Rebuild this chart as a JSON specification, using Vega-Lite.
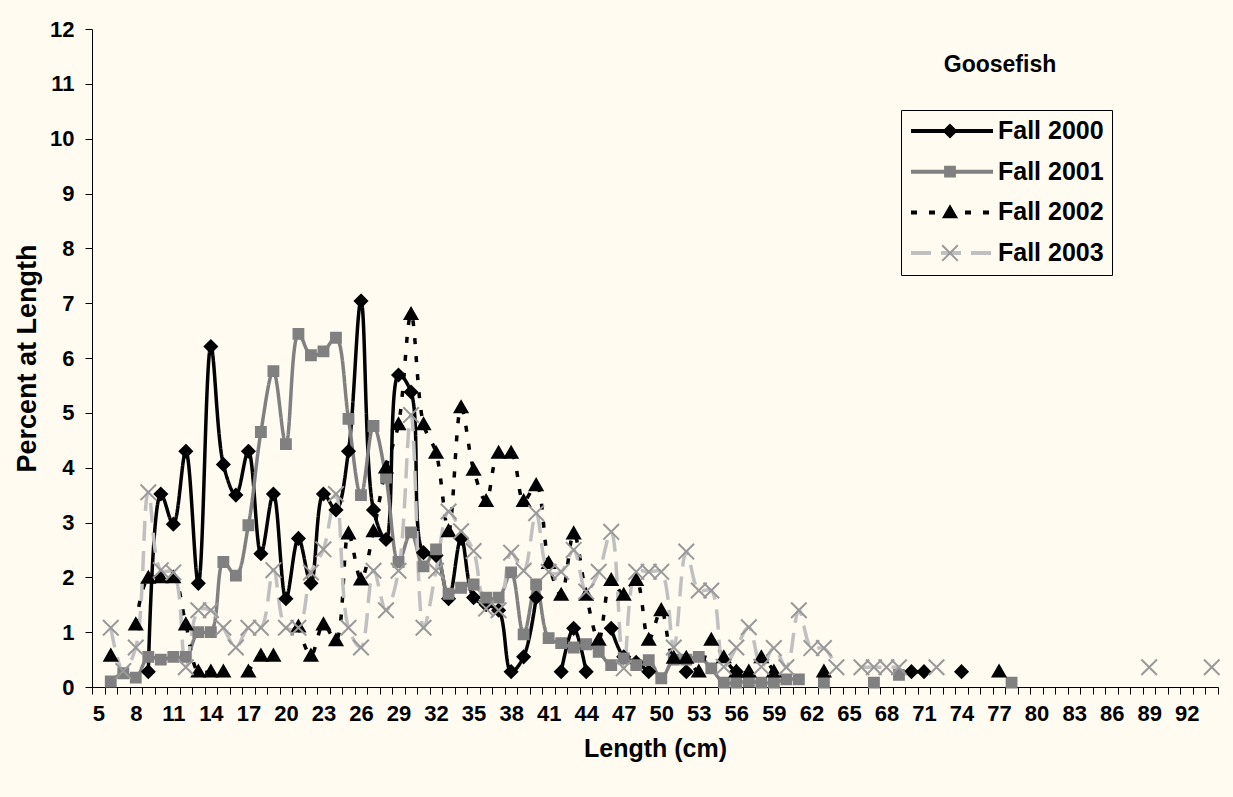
{
  "$schema": "https://vega.github.io/schema/vega-lite/v6.json",
  "width": 1126,
  "height": 658,
  "autosize": "none",
  "padding": {"left": 92, "top": 29, "right": 15, "bottom": 110},
  "background": "#FFFBF0",
  "config": {
    "view": {"stroke": null, "fill": "#FFFBF0"},
    "font": "Liberation Sans",
    "axis": {"grid": false, "domainColor": "#000000", "tickColor": "#000000", "labelColor": "#000000", "titleColor": "#000000"}
  },
  "title": {
    "text": "Goosefish",
    "anchor": "start",
    "frame": "group",
    "align": "center",
    "baseline": "bottom",
    "offset": 0,
    "dx": 908,
    "dy": 82,
    "fontSize": 23,
    "fontWeight": "bold",
    "color": "#000000"
  },
  "data": {
    "values": [
      {"length": 9, "series": "Fall 2000", "pct": 0.28},
      {"length": 10, "series": "Fall 2000", "pct": 3.52},
      {"length": 11, "series": "Fall 2000", "pct": 2.97},
      {"length": 12, "series": "Fall 2000", "pct": 4.3},
      {"length": 13, "series": "Fall 2000", "pct": 1.89},
      {"length": 14, "series": "Fall 2000", "pct": 6.21},
      {"length": 15, "series": "Fall 2000", "pct": 4.06},
      {"length": 16, "series": "Fall 2000", "pct": 3.5},
      {"length": 17, "series": "Fall 2000", "pct": 4.3},
      {"length": 18, "series": "Fall 2000", "pct": 2.43},
      {"length": 19, "series": "Fall 2000", "pct": 3.52},
      {"length": 20, "series": "Fall 2000", "pct": 1.61},
      {"length": 21, "series": "Fall 2000", "pct": 2.71},
      {"length": 22, "series": "Fall 2000", "pct": 1.89},
      {"length": 23, "series": "Fall 2000", "pct": 3.52},
      {"length": 24, "series": "Fall 2000", "pct": 3.23},
      {"length": 25, "series": "Fall 2000", "pct": 4.3},
      {"length": 26, "series": "Fall 2000", "pct": 7.04},
      {"length": 27, "series": "Fall 2000", "pct": 3.23},
      {"length": 28, "series": "Fall 2000", "pct": 2.69},
      {"length": 29, "series": "Fall 2000", "pct": 5.69},
      {"length": 30, "series": "Fall 2000", "pct": 5.38},
      {"length": 31, "series": "Fall 2000", "pct": 2.45},
      {"length": 32, "series": "Fall 2000", "pct": 2.4},
      {"length": 33, "series": "Fall 2000", "pct": 1.61},
      {"length": 34, "series": "Fall 2000", "pct": 2.71},
      {"length": 35, "series": "Fall 2000", "pct": 1.63},
      {"length": 36, "series": "Fall 2000", "pct": 1.5},
      {"length": 37, "series": "Fall 2000", "pct": 1.4},
      {"length": 38, "series": "Fall 2000", "pct": 0.28},
      {"length": 39, "series": "Fall 2000", "pct": 0.55},
      {"length": 40, "series": "Fall 2000", "pct": 1.63},
      {"length": 41, "series": "Fall 2000", "pct": null},
      {"length": 42, "series": "Fall 2000", "pct": 0.28},
      {"length": 43, "series": "Fall 2000", "pct": 1.07},
      {"length": 44, "series": "Fall 2000", "pct": 0.28},
      {"length": 45, "series": "Fall 2000", "pct": null},
      {"length": 46, "series": "Fall 2000", "pct": 1.07},
      {"length": 47, "series": "Fall 2000", "pct": 0.55},
      {"length": 48, "series": "Fall 2000", "pct": 0.45},
      {"length": 49, "series": "Fall 2000", "pct": 0.28},
      {"length": 50, "series": "Fall 2000", "pct": null},
      {"length": 52, "series": "Fall 2000", "pct": 0.28},
      {"length": 53, "series": "Fall 2000", "pct": null},
      {"length": 56, "series": "Fall 2000", "pct": 0.28},
      {"length": 57, "series": "Fall 2000", "pct": null},
      {"length": 70, "series": "Fall 2000", "pct": 0.28},
      {"length": 71, "series": "Fall 2000", "pct": 0.28},
      {"length": 72, "series": "Fall 2000", "pct": null},
      {"length": 74, "series": "Fall 2000", "pct": 0.28},

      {"length": 6, "series": "Fall 2001", "pct": 0.1},
      {"length": 7, "series": "Fall 2001", "pct": 0.25},
      {"length": 8, "series": "Fall 2001", "pct": 0.17},
      {"length": 9, "series": "Fall 2001", "pct": 0.55},
      {"length": 10, "series": "Fall 2001", "pct": 0.5},
      {"length": 11, "series": "Fall 2001", "pct": 0.55},
      {"length": 12, "series": "Fall 2001", "pct": 0.55},
      {"length": 13, "series": "Fall 2001", "pct": 1.0},
      {"length": 14, "series": "Fall 2001", "pct": 1.0},
      {"length": 15, "series": "Fall 2001", "pct": 2.28},
      {"length": 16, "series": "Fall 2001", "pct": 2.03},
      {"length": 17, "series": "Fall 2001", "pct": 2.95},
      {"length": 18, "series": "Fall 2001", "pct": 4.65},
      {"length": 19, "series": "Fall 2001", "pct": 5.76},
      {"length": 20, "series": "Fall 2001", "pct": 4.43},
      {"length": 21, "series": "Fall 2001", "pct": 6.44},
      {"length": 22, "series": "Fall 2001", "pct": 6.05},
      {"length": 23, "series": "Fall 2001", "pct": 6.12},
      {"length": 24, "series": "Fall 2001", "pct": 6.37},
      {"length": 25, "series": "Fall 2001", "pct": 4.89},
      {"length": 26, "series": "Fall 2001", "pct": 3.5},
      {"length": 27, "series": "Fall 2001", "pct": 4.76},
      {"length": 28, "series": "Fall 2001", "pct": 3.82},
      {"length": 29, "series": "Fall 2001", "pct": 2.28},
      {"length": 30, "series": "Fall 2001", "pct": 2.82},
      {"length": 31, "series": "Fall 2001", "pct": 2.2},
      {"length": 32, "series": "Fall 2001", "pct": 2.51},
      {"length": 33, "series": "Fall 2001", "pct": 1.7},
      {"length": 34, "series": "Fall 2001", "pct": 1.81},
      {"length": 35, "series": "Fall 2001", "pct": 1.87},
      {"length": 36, "series": "Fall 2001", "pct": 1.63},
      {"length": 37, "series": "Fall 2001", "pct": 1.63},
      {"length": 38, "series": "Fall 2001", "pct": 2.09},
      {"length": 39, "series": "Fall 2001", "pct": 0.96},
      {"length": 40, "series": "Fall 2001", "pct": 1.87},
      {"length": 41, "series": "Fall 2001", "pct": 0.89},
      {"length": 42, "series": "Fall 2001", "pct": 0.8},
      {"length": 43, "series": "Fall 2001", "pct": 0.72},
      {"length": 44, "series": "Fall 2001", "pct": 0.78},
      {"length": 45, "series": "Fall 2001", "pct": 0.64},
      {"length": 46, "series": "Fall 2001", "pct": 0.4},
      {"length": 47, "series": "Fall 2001", "pct": 0.52},
      {"length": 48, "series": "Fall 2001", "pct": 0.4},
      {"length": 49, "series": "Fall 2001", "pct": 0.49},
      {"length": 50, "series": "Fall 2001", "pct": 0.16},
      {"length": 51, "series": "Fall 2001", "pct": 0.5},
      {"length": 52, "series": "Fall 2001", "pct": 0.5},
      {"length": 53, "series": "Fall 2001", "pct": 0.55},
      {"length": 54, "series": "Fall 2001", "pct": 0.34},
      {"length": 55, "series": "Fall 2001", "pct": 0.08},
      {"length": 56, "series": "Fall 2001", "pct": 0.08},
      {"length": 57, "series": "Fall 2001", "pct": 0.1},
      {"length": 58, "series": "Fall 2001", "pct": 0.08},
      {"length": 59, "series": "Fall 2001", "pct": 0.08},
      {"length": 60, "series": "Fall 2001", "pct": 0.14},
      {"length": 61, "series": "Fall 2001", "pct": 0.14},
      {"length": 62, "series": "Fall 2001", "pct": null},
      {"length": 63, "series": "Fall 2001", "pct": 0.08},
      {"length": 64, "series": "Fall 2001", "pct": null},
      {"length": 67, "series": "Fall 2001", "pct": 0.08},
      {"length": 68, "series": "Fall 2001", "pct": null},
      {"length": 69, "series": "Fall 2001", "pct": 0.22},
      {"length": 70, "series": "Fall 2001", "pct": null},
      {"length": 78, "series": "Fall 2001", "pct": 0.08},

      {"length": 6, "series": "Fall 2002", "pct": 0.57},
      {"length": 7, "series": "Fall 2002", "pct": null},
      {"length": 8, "series": "Fall 2002", "pct": 1.14},
      {"length": 9, "series": "Fall 2002", "pct": 1.99},
      {"length": 10, "series": "Fall 2002", "pct": 2.0},
      {"length": 11, "series": "Fall 2002", "pct": 2.0},
      {"length": 12, "series": "Fall 2002", "pct": 1.14},
      {"length": 13, "series": "Fall 2002", "pct": 0.28},
      {"length": 14, "series": "Fall 2002", "pct": 0.28},
      {"length": 15, "series": "Fall 2002", "pct": 0.28},
      {"length": 16, "series": "Fall 2002", "pct": null},
      {"length": 17, "series": "Fall 2002", "pct": 0.28},
      {"length": 18, "series": "Fall 2002", "pct": 0.57},
      {"length": 19, "series": "Fall 2002", "pct": 0.57},
      {"length": 20, "series": "Fall 2002", "pct": null},
      {"length": 21, "series": "Fall 2002", "pct": 1.1},
      {"length": 22, "series": "Fall 2002", "pct": 0.57},
      {"length": 23, "series": "Fall 2002", "pct": 1.14},
      {"length": 24, "series": "Fall 2002", "pct": 0.85},
      {"length": 25, "series": "Fall 2002", "pct": 2.8},
      {"length": 26, "series": "Fall 2002", "pct": 1.96},
      {"length": 27, "series": "Fall 2002", "pct": 2.84},
      {"length": 28, "series": "Fall 2002", "pct": 4.0},
      {"length": 29, "series": "Fall 2002", "pct": 4.79},
      {"length": 30, "series": "Fall 2002", "pct": 6.8},
      {"length": 31, "series": "Fall 2002", "pct": 4.79},
      {"length": 32, "series": "Fall 2002", "pct": 4.27},
      {"length": 33, "series": "Fall 2002", "pct": 2.84},
      {"length": 34, "series": "Fall 2002", "pct": 5.1},
      {"length": 35, "series": "Fall 2002", "pct": 3.96},
      {"length": 36, "series": "Fall 2002", "pct": 3.39},
      {"length": 37, "series": "Fall 2002", "pct": 4.27},
      {"length": 38, "series": "Fall 2002", "pct": 4.27},
      {"length": 39, "series": "Fall 2002", "pct": 3.39},
      {"length": 40, "series": "Fall 2002", "pct": 3.68},
      {"length": 41, "series": "Fall 2002", "pct": 2.26},
      {"length": 42, "series": "Fall 2002", "pct": 1.68},
      {"length": 43, "series": "Fall 2002", "pct": 2.8},
      {"length": 44, "series": "Fall 2002", "pct": 1.68},
      {"length": 45, "series": "Fall 2002", "pct": 0.86},
      {"length": 46, "series": "Fall 2002", "pct": 1.95},
      {"length": 47, "series": "Fall 2002", "pct": 1.68},
      {"length": 48, "series": "Fall 2002", "pct": 1.95},
      {"length": 49, "series": "Fall 2002", "pct": 0.86},
      {"length": 50, "series": "Fall 2002", "pct": 1.4},
      {"length": 51, "series": "Fall 2002", "pct": 0.53},
      {"length": 52, "series": "Fall 2002", "pct": 0.53},
      {"length": 53, "series": "Fall 2002", "pct": 0.28},
      {"length": 54, "series": "Fall 2002", "pct": 0.86},
      {"length": 55, "series": "Fall 2002", "pct": 0.54},
      {"length": 56, "series": "Fall 2002", "pct": 0.28},
      {"length": 57, "series": "Fall 2002", "pct": 0.28},
      {"length": 58, "series": "Fall 2002", "pct": 0.54},
      {"length": 59, "series": "Fall 2002", "pct": 0.28},
      {"length": 60, "series": "Fall 2002", "pct": null},
      {"length": 63, "series": "Fall 2002", "pct": 0.28},
      {"length": 64, "series": "Fall 2002", "pct": null},
      {"length": 77, "series": "Fall 2002", "pct": 0.28},

      {"length": 6, "series": "Fall 2003", "pct": 1.08},
      {"length": 7, "series": "Fall 2003", "pct": 0.29},
      {"length": 8, "series": "Fall 2003", "pct": 0.72},
      {"length": 9, "series": "Fall 2003", "pct": 3.55},
      {"length": 10, "series": "Fall 2003", "pct": 2.13},
      {"length": 11, "series": "Fall 2003", "pct": 2.09},
      {"length": 12, "series": "Fall 2003", "pct": 0.36},
      {"length": 13, "series": "Fall 2003", "pct": 1.4},
      {"length": 14, "series": "Fall 2003", "pct": 1.4},
      {"length": 15, "series": "Fall 2003", "pct": 1.08},
      {"length": 16, "series": "Fall 2003", "pct": 0.72},
      {"length": 17, "series": "Fall 2003", "pct": 1.08},
      {"length": 18, "series": "Fall 2003", "pct": 1.08},
      {"length": 19, "series": "Fall 2003", "pct": 2.13},
      {"length": 20, "series": "Fall 2003", "pct": 1.08},
      {"length": 21, "series": "Fall 2003", "pct": 1.08},
      {"length": 22, "series": "Fall 2003", "pct": 2.09},
      {"length": 23, "series": "Fall 2003", "pct": 2.51},
      {"length": 24, "series": "Fall 2003", "pct": 3.52},
      {"length": 25, "series": "Fall 2003", "pct": 1.08},
      {"length": 26, "series": "Fall 2003", "pct": 0.72},
      {"length": 27, "series": "Fall 2003", "pct": 2.12},
      {"length": 28, "series": "Fall 2003", "pct": 1.4},
      {"length": 29, "series": "Fall 2003", "pct": 2.12},
      {"length": 30, "series": "Fall 2003", "pct": 4.96},
      {"length": 31, "series": "Fall 2003", "pct": 1.08},
      {"length": 32, "series": "Fall 2003", "pct": 2.12},
      {"length": 33, "series": "Fall 2003", "pct": 3.2},
      {"length": 34, "series": "Fall 2003", "pct": 2.84},
      {"length": 35, "series": "Fall 2003", "pct": 2.48},
      {"length": 36, "series": "Fall 2003", "pct": 1.43},
      {"length": 37, "series": "Fall 2003", "pct": 1.4},
      {"length": 38, "series": "Fall 2003", "pct": 2.45},
      {"length": 39, "series": "Fall 2003", "pct": 2.12},
      {"length": 40, "series": "Fall 2003", "pct": 3.17},
      {"length": 41, "series": "Fall 2003", "pct": 2.1},
      {"length": 42, "series": "Fall 2003", "pct": 2.1},
      {"length": 43, "series": "Fall 2003", "pct": 2.5},
      {"length": 44, "series": "Fall 2003", "pct": 1.74},
      {"length": 45, "series": "Fall 2003", "pct": 2.1},
      {"length": 46, "series": "Fall 2003", "pct": 2.83},
      {"length": 47, "series": "Fall 2003", "pct": 0.34},
      {"length": 48, "series": "Fall 2003", "pct": 2.1},
      {"length": 49, "series": "Fall 2003", "pct": 2.1},
      {"length": 50, "series": "Fall 2003", "pct": 2.1},
      {"length": 51, "series": "Fall 2003", "pct": 0.72},
      {"length": 52, "series": "Fall 2003", "pct": 2.47},
      {"length": 53, "series": "Fall 2003", "pct": 1.76},
      {"length": 54, "series": "Fall 2003", "pct": 1.76},
      {"length": 55, "series": "Fall 2003", "pct": 0.37},
      {"length": 56, "series": "Fall 2003", "pct": 0.72},
      {"length": 57, "series": "Fall 2003", "pct": 1.09},
      {"length": 58, "series": "Fall 2003", "pct": 0.37},
      {"length": 59, "series": "Fall 2003", "pct": 0.71},
      {"length": 60, "series": "Fall 2003", "pct": 0.36},
      {"length": 61, "series": "Fall 2003", "pct": 1.4},
      {"length": 62, "series": "Fall 2003", "pct": 0.71},
      {"length": 63, "series": "Fall 2003", "pct": 0.71},
      {"length": 64, "series": "Fall 2003", "pct": 0.36},
      {"length": 65, "series": "Fall 2003", "pct": null},
      {"length": 66, "series": "Fall 2003", "pct": 0.36},
      {"length": 67, "series": "Fall 2003", "pct": 0.36},
      {"length": 68, "series": "Fall 2003", "pct": 0.36},
      {"length": 69, "series": "Fall 2003", "pct": 0.36},
      {"length": 70, "series": "Fall 2003", "pct": null},
      {"length": 72, "series": "Fall 2003", "pct": 0.36},
      {"length": 73, "series": "Fall 2003", "pct": null},
      {"length": 89, "series": "Fall 2003", "pct": 0.36},
      {"length": 90, "series": "Fall 2003", "pct": null},
      {"length": 94, "series": "Fall 2003", "pct": 0.36}
    ]
  },
  "layer": [
    {
      "mark": {"type": "line", "interpolate": "catmull-rom", "strokeWidth": 3.5, "invalid": "break-paths-show-domains"},
      "encoding": {
        "x": {
          "field": "length",
          "type": "quantitative",
          "scale": {"domain": [4.5, 94.5], "nice": false, "zero": false},
          "axis": {
            "values": [4.5,5.5,6.5,7.5,8.5,9.5,10.5,11.5,12.5,13.5,14.5,15.5,16.5,17.5,18.5,19.5,20.5,21.5,22.5,23.5,24.5,25.5,26.5,27.5,28.5,29.5,30.5,31.5,32.5,33.5,34.5,35.5,36.5,37.5,38.5,39.5,40.5,41.5,42.5,43.5,44.5,45.5,46.5,47.5,48.5,49.5,50.5,51.5,52.5,53.5,54.5,55.5,56.5,57.5,58.5,59.5,60.5,61.5,62.5,63.5,64.5,65.5,66.5,67.5,68.5,69.5,70.5,71.5,72.5,73.5,74.5,75.5,76.5,77.5,78.5,79.5,80.5,81.5,82.5,83.5,84.5,85.5,86.5,87.5,88.5,89.5,90.5,91.5,92.5,93.5,94.5],
            "tickCount": 200,
            "labelExpr": "((datum.value - 4.5) % 3 == 0 && datum.value < 94) ? format(datum.value + 0.5, 'd') : ''",
            "labelOffset": 6.26,
            "labelOverlap": false,
            "labelFlush": false,
            "labelBound": false,
            "tickSize": 7,
            "tickWidth": 1,
            "domainWidth": 1,
            "labelFontSize": 22,
            "labelFontWeight": "bold",
            "labelPadding": 9,
            "title": "Length (cm)",
            "titleFontSize": 25,
            "titleFontWeight": "bold",
            "titlePadding": 12
          }
        },
        "y": {
          "field": "pct",
          "type": "quantitative",
          "scale": {"domain": [0, 12], "nice": false, "zero": true},
          "axis": {
            "values": [0,1,2,3,4,5,6,7,8,9,10,11,12],
            "format": "d",
            "tickSize": 7,
            "tickWidth": 1,
            "domainWidth": 1,
            "labelFontSize": 22,
            "labelFontWeight": "bold",
            "labelPadding": 11,
            "labelFlush": false,
            "labelBound": false,
            "title": "Percent at Length",
            "titleFontSize": 27,
            "titleFontWeight": "bold",
            "titlePadding": 8
          }
        },
        "color": {
          "field": "series",
          "type": "nominal",
          "scale": {"range": ["#000000", "#808080", "#000000", "#C0C0C0"]},
          "legend": {
            "orient": "none",
            "legendX": 809,
            "legendY": 81,
            "title": null,
            "symbolType": "stroke",
            "symbolSize": 6724,
            "symbolStrokeWidth": 4,
            "clipHeight": 26,
            "rowPadding": 14.7,
            "padding": 8,
            "labelOffset": 3,
            "labelFontSize": 25,
            "labelFontWeight": "bold",
            "labelColor": "#000000",
            "strokeColor": "#000000"
          }
        },
        "strokeDash": {
          "field": "series",
          "type": "nominal",
          "scale": {"range": [[1, 0], [1, 0], [6, 12], [20, 10]]},
          "legend": {
            "orient": "none",
            "legendX": 809,
            "legendY": 81,
            "title": null,
            "symbolType": "stroke",
            "symbolSize": 6724,
            "symbolStrokeWidth": 4,
            "clipHeight": 26,
            "rowPadding": 14.7,
            "padding": 8,
            "labelOffset": 3,
            "labelFontSize": 25,
            "labelFontWeight": "bold",
            "labelColor": "#000000",
            "strokeColor": "#000000"
          }
        }
      }
    },
    {
      "mark": {"type": "point", "filled": true, "strokeWidth": 2, "opacity": 1, "size": 6724},
      "encoding": {
        "x": {"field": "length", "type": "quantitative"},
        "y": {"field": "pct", "type": "quantitative"},
        "shape": {
          "field": "series",
          "type": "nominal",
          "scale": {
            "domain": ["Fall 2000", "Fall 2001", "Fall 2002", "Fall 2003"],
            "range": [
              "M0,-0.15L0.15,0L0,0.15L-0.15,0Z",
              "M-0.12,-0.12L0.12,-0.12L0.12,0.12L-0.12,0.12Z",
              "M0,-0.15L0.155,0.12L-0.155,0.12Z",
              "M-0.19,-0.19L0.19,0.19M-0.19,0.19L0.19,-0.19"
            ]
          },
          "legend": {
            "orient": "none",
            "legendX": 809,
            "legendY": 81,
            "title": null,
            "symbolSize": 6724,
            "symbolStrokeWidth": 2,
            "symbolOffset": -1,
            "symbolFillColor": {"expr": "datum.value === 'Fall 2001' ? '#808080' : (datum.value === 'Fall 2003' ? '#999999' : '#000000')"},
            "symbolStrokeColor": {"expr": "datum.value === 'Fall 2001' ? '#808080' : (datum.value === 'Fall 2003' ? '#999999' : '#000000')"},
            "clipHeight": 26,
            "rowPadding": 14.7,
            "padding": 8,
            "labelOffset": 3,
            "labelFontSize": 25,
            "labelFontWeight": "bold",
            "labelExpr": "''",
            "labelOpacity": 0
          }
        },
        "fill": {
          "field": "series",
          "type": "nominal",
          "scale": {"range": ["#000000", "#808080", "#000000", "#999999"]},
          "legend": null
        },
        "stroke": {
          "field": "series",
          "type": "nominal",
          "scale": {"range": ["#000000", "#808080", "#000000", "#999999"]},
          "legend": null
        }
      }
    }
  ]
}
